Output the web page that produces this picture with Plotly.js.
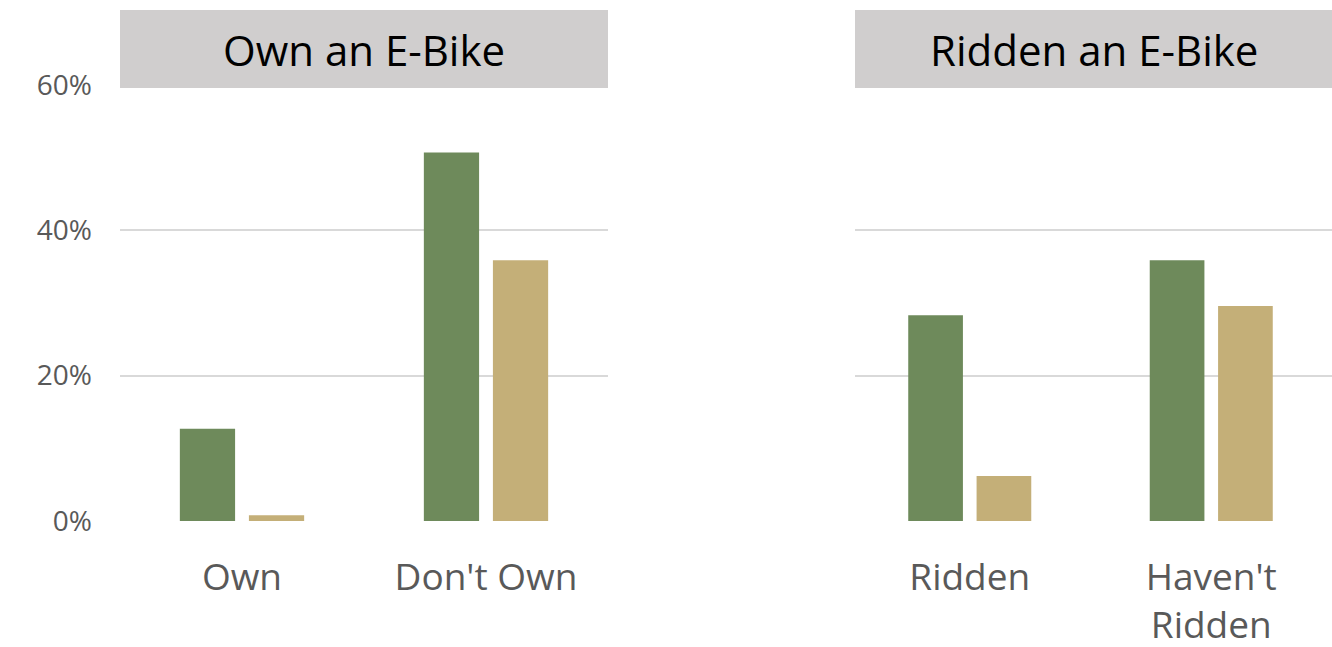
<!DOCTYPE html>
<html>
<head>
<meta charset="utf-8">
<script src="https://cdn.plot.ly/plotly-3.0.1.min.js"></script>
<style>html,body{margin:0;padding:0;background:#fff;}#chart{width:1332px;height:647px;}</style>
</head>
<body>
<div id="chart"></div>
<script>
// Panel 1: Own an E-Bike
const ownCategories = ["Own", "Don't Own"];
const ownSeriesA = [0.127, 0.507];
const ownSeriesB = [0.008, 0.359];
// Panel 2: Ridden an E-Bike
const riddenCategories = ["Ridden", "Haven't<br>Ridden"];
const riddenSeriesA = [0.283, 0.359];
const riddenSeriesB = [0.062, 0.296];
const panelTitles = ["Own an E-Bike", "Ridden an E-Bike"];
const yTickVals = [0, 0.2, 0.4, 0.6];

const GREEN = '#6E8A5B';
const TAN = '#C4AF78';
const FONT = '"Open Sans", "Noto Sans", sans-serif';

const traces = [
  {type:'bar', x: ownCategories, y: ownSeriesA, marker:{color:GREEN}, xaxis:'x', yaxis:'y', name:'A', showlegend:false, hoverinfo:'y'},
  {type:'bar', x: ownCategories, y: ownSeriesB, marker:{color:TAN}, xaxis:'x', yaxis:'y', name:'B', showlegend:false, hoverinfo:'y'},
  {type:'bar', x: riddenCategories, y: riddenSeriesA, marker:{color:GREEN}, xaxis:'x2', yaxis:'y2', name:'A', showlegend:false, hoverinfo:'y'},
  {type:'bar', x: riddenCategories, y: riddenSeriesB, marker:{color:TAN}, xaxis:'x2', yaxis:'y2', name:'B', showlegend:false, hoverinfo:'y'}
];

const W = 1332;
const leftDom = [120/W, 608/W];
const rightDom = [849/W, 1332/W];
const boxTop = (521-10)/436;
const boxBot = (521-88)/436;

const yCommon = {
  range:[0,0.6], tickvals: yTickVals, tickformat:'.0%',
  gridcolor:'#D9D9D9', gridwidth:2, zeroline:false, showline:false,
  fixedrange:true
};

const layout = {
  width: 1332, height: 647,
  margin:{l:0, r:0, t:85, b:126, pad:0},
  paper_bgcolor:'#ffffff', plot_bgcolor:'#ffffff',
  font:{family:FONT, color:'#595959'},
  barmode:'group', bargap:0.434, bargroupgap:0.2,
  xaxis:{domain:leftDom, anchor:'y', showgrid:false, showline:false, zeroline:false,
         tickfont:{size:37, color:'#595959'}, ticks:'', ticklabelstandoff:31, fixedrange:true},
  xaxis2:{domain:rightDom, anchor:'y2', showgrid:false, showline:false, zeroline:false,
         tickfont:{size:37, color:'#595959'}, ticks:'', ticklabelstandoff:31, fixedrange:true},
  yaxis:Object.assign({}, yCommon, {anchor:'x', tickfont:{size:28, color:'#595959'}, ticks:'', ticklabelstandoff:27}),
  yaxis2:Object.assign({}, yCommon, {anchor:'x2', showticklabels:false, ticks:''}),
  shapes:[
    {type:'rect', xref:'paper', yref:'paper', x0:120/W, x1:608/W, y0:boxBot, y1:boxTop, fillcolor:'#D0CECE', line:{width:0}, layer:'above'},
    {type:'rect', xref:'paper', yref:'paper', x0:855/W, x1:1332/W, y0:boxBot, y1:boxTop, fillcolor:'#D0CECE', line:{width:0}, layer:'above'},
    {type:'rect', xref:'paper', yref:'paper', x0:846/W, x1:855/W, y0:-0.02, y1:1.0, fillcolor:'#ffffff', line:{width:0}, layer:'above'}
  ],
  annotations:[
    {xref:'paper', yref:'paper', x:364/W, y:(boxTop+boxBot)/2, text:panelTitles[0], showarrow:false, xanchor:'center', yanchor:'middle', font:{size:42, color:'#000000', family:FONT}},
    {xref:'paper', yref:'paper', x:1093.5/W, y:(boxTop+boxBot)/2, text:panelTitles[1], showarrow:false, xanchor:'center', yanchor:'middle', font:{size:42, color:'#000000', family:FONT}}
  ]
};

Plotly.newPlot('chart', traces, layout, {displayModeBar:false, staticPlot:true});
</script>
</body>
</html>
